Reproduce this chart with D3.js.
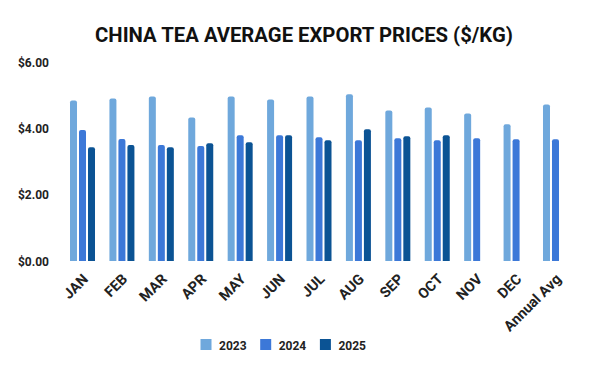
<!DOCTYPE html>
<html>
<head>
<meta charset="utf-8">
<script src="https://cdn.jsdelivr.net/npm/d3@7"></script>
<style>
  body { margin: 0; background: #fff; }
  svg { font-family: Roboto, "Liberation Sans", sans-serif; }
</style>
</head>
<body>
<svg width="600" height="371"></svg>
<script>
// data
const months = ["JAN","FEB","MAR","APR","MAY","JUN","JUL","AUG","SEP","OCT","NOV","DEC","Annual Avg"];
const years = ["2023","2024","2025"];
const v2023 = [4.84,4.90,4.96,4.33,4.96,4.87,4.96,5.03,4.54,4.63,4.45,4.12,4.72];
const v2024 = [3.95,3.68,3.50,3.47,3.79,3.79,3.73,3.64,3.70,3.64,3.70,3.67,3.67];
const v2025 = [3.43,3.50,3.43,3.55,3.58,3.79,3.64,3.97,3.76,3.79,null,null,null];
const yTicks = [0,2,4,6];

const color = d3.scaleOrdinal()
  .domain(years)
  .range(["#6fa8dc","#3c78d8","#0b5394"]);

const svg = d3.select("svg");

// title
svg.append("text")
  .attr("x", 304)
  .attr("y", 42)
  .attr("text-anchor", "middle")
  .attr("font-size", "20.3px")
  .attr("font-weight", "bold")
  .attr("fill", "#111")
  .text("CHINA TEA AVERAGE EXPORT PRICES ($/KG)");

// scales
const x = d3.scaleBand()
  .domain(months)
  .range([62.8, 575.2])
  .paddingInner(0)
  .paddingOuter(0);

const xs = d3.scaleBand()
  .domain(years)
  .range([0, 25])
  .paddingInner(2 / 9);

const y = d3.scaleLinear()
  .domain([0, 6])
  .range([261, 62]);

// y labels (no axis line)
svg.append("g")
  .selectAll("text")
  .data(yTicks)
  .enter().append("text")
    .attr("x", 49)
    .attr("y", d => y(d) + 4.5)
    .attr("text-anchor", "end")
    .attr("font-size", "12px")
    .attr("font-weight", "bold")
    .attr("fill", "#222")
    .text(d => "$" + d.toFixed(2));

// bars with rounded tops
const rows = [];
months.forEach((m, i) => {
  [v2023, v2024, v2025].forEach((arr, j) => {
    if (arr[i] != null) rows.push({month: m, year: years[j], value: arr[i]});
  });
});

function topRounded(x0, y0, w, h, r) {
  return `M${x0},${y0 + h}V${y0 + r}Q${x0},${y0} ${x0 + r},${y0}H${x0 + w - r}Q${x0 + w},${y0} ${x0 + w},${y0 + r}V${y0 + h}Z`;
}

svg.append("g")
  .selectAll("path")
  .data(rows)
  .enter().append("path")
    .attr("d", d => {
      const bx = x(d.month) + (x.bandwidth() - 25) / 2 + xs(d.year);
      const by = y(d.value);
      return topRounded(bx, by, xs.bandwidth(), y(0) - by, 2);
    })
    .attr("fill", d => color(d.year));

// x labels rotated
svg.append("g")
  .selectAll("text")
  .data(months)
  .enter().append("text")
    .attr("text-anchor", "end")
    .attr("font-size", "14.5px")
    .attr("font-weight", "bold")
    .attr("fill", "#222")
    .attr("transform", d => `translate(${x(d) + x.bandwidth() / 2 + 6.5}, ${280}) rotate(-45)`)
    .text(d => d);

// legend
const legend = svg.append("g")
  .selectAll("g")
  .data(years)
  .enter().append("g")
    .attr("transform", (d, i) => `translate(${200.5 + i * 59.7}, 339)`);

legend.append("rect")
  .attr("width", 11)
  .attr("height", 11)
  .attr("fill", d => color(d));

legend.append("text")
  .attr("x", 18.5)
  .attr("y", 10.5)
  .attr("font-size", "12px")
  .attr("font-weight", "bold")
  .attr("fill", "#222")
  .text(d => d);
</script>
</body>
</html>
